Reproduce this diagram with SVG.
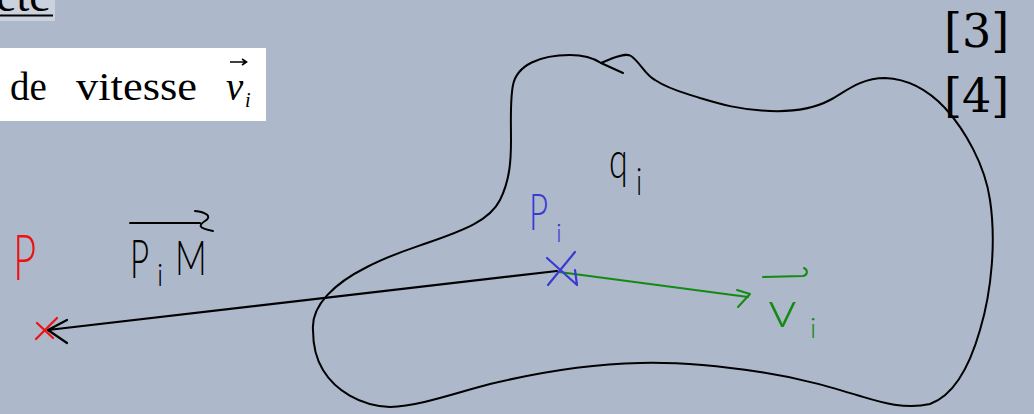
<svg xmlns="http://www.w3.org/2000/svg" width="1034" height="414" viewBox="0 0 1034 414">
<style>
.hand{font-family:"Lato","Open Sans","DejaVu Sans",sans-serif;font-weight:300}
.ink{fill:none;stroke-linecap:round;stroke-linejoin:round}
.serif{font-family:"Liberation Serif","Times New Roman",serif;fill:#000}
</style>
<rect width="1034" height="414" fill="#adb8ca"/>
<g id="header">
<rect x="0" y="0" width="55" height="21" fill="#cbd2de"/>
<text class="serif" x="-4" y="11" font-size="46">etc</text>
<line x1="0" y1="15.5" x2="53" y2="15.5" stroke="#000" stroke-width="2"/>
<rect x="0" y="48" width="266" height="73" fill="#ffffff"/>
<text class="serif" x="10" y="100" font-size="39">de</text>
<text class="serif" x="76" y="100" font-size="39" textLength="121" lengthAdjust="spacingAndGlyphs">vitesse</text>
<text class="serif" x="226" y="100" font-size="39" font-style="italic">v</text>
<text class="serif" x="245" y="107" font-size="20" font-style="italic">i</text>
<path d="M230,62 H246 M242,59 L246.5,62 L242,65" fill="none" stroke="#000" stroke-width="1.6"/>
<text x="944" y="47" font-family="DejaVu Serif,serif" font-size="46">[3]</text>
<text x="944" y="112" font-family="DejaVu Serif,serif" font-size="46">[4]</text>
</g>
<g id="body-outline">
<path class="ink" stroke="#000" stroke-width="2" d="M313,330 C311,305 335,283 367,267 C390,255 410,249 427,243 C465,230 490,220 500,200 C510,180 511,160 511,140 C511,120 510,100 513,85 C517,65 540,55 570,55 C585,55 595,59 601,63 L613,58 C620,56 626,53 631,56 C640,62 645,75 655,80 C670,90 685,93 700,98 C720,104 740,110 770,111 C795,112 815,108 830,100 C845,92 860,78 885,78 C910,79 930,92 945,108 C965,130 985,165 990,200 C996,240 992,290 980,330 C970,365 955,395 930,404 C905,410 880,402 860,396 C830,387 800,378 760,372 C720,366 680,362 640,363 C590,364 540,372 490,384 C455,393 420,406 390,407 C360,406 335,390 323,370 C315,357 313,345 313,330 Z"/>
<path class="ink" stroke="#000" stroke-width="2" d="M601,63 L623,73"/>
</g>
<g id="connectors">
<path id="vec-PiM" class="ink" stroke="#000" stroke-width="2.2" d="M557,271 L48,330 M67,320 L48,330 L67,343"/>
<path id="vec-vi" class="ink" stroke="#138a13" stroke-width="2" d="M559,272 L748,297 M737,290 L750,294 L738,307"/>
</g>
<g id="node-P">
<path class="ink" stroke="#ee1111" stroke-width="2.2" d="M37,323 L53,338 M57,318 L36,339"/>
<text class="hand" transform="translate(13,280) scale(1,1.6)" font-size="40" fill="#ee1111">P</text>
</g>
<g id="label-PiM">
<path class="ink" stroke="#000" stroke-width="2" d="M130,223 L200,223 M195,211 C205,212 213,216 205,221 C199,225 197,228 213,231"/>
<text class="hand" transform="translate(130,278) scale(1,1.6)" font-size="33" fill="#000">P</text>
<text class="hand" transform="translate(157,286) scale(1,1.1)" font-size="28" fill="#000">i</text>
<text class="hand" transform="translate(175,275) scale(1,1.35)" font-size="35" fill="#000">M</text>
</g>
<g id="node-Pi">
<path class="ink" stroke="#3a3ad2" stroke-width="2.2" d="M548,285 L575,252 M547,258 L577,285 L575,270"/>
<text class="hand" transform="translate(529,230) scale(1,1.55)" font-size="33" fill="#3a3ad2">P</text>
<text class="hand" transform="translate(556,242)" font-size="26" fill="#3a3ad2">i</text>
</g>
<g id="label-qi">
<text class="hand" transform="translate(609,178) scale(1,1.5)" font-size="34" fill="#000">q</text>
<text class="hand" transform="translate(636,195) scale(1,1.3)" font-size="28" fill="#000">i</text>
</g>
<g id="label-vi">
<path class="ink" stroke="#138a13" stroke-width="2" d="M763,277 L803,276 C808,275 808,270 804,268"/>
<text class="hand" transform="translate(768,327) scale(1.15,1)" font-size="50" fill="#138a13">v</text>
<text class="hand" transform="translate(810,338)" font-size="28" fill="#138a13">i</text>
</g>
</svg>
